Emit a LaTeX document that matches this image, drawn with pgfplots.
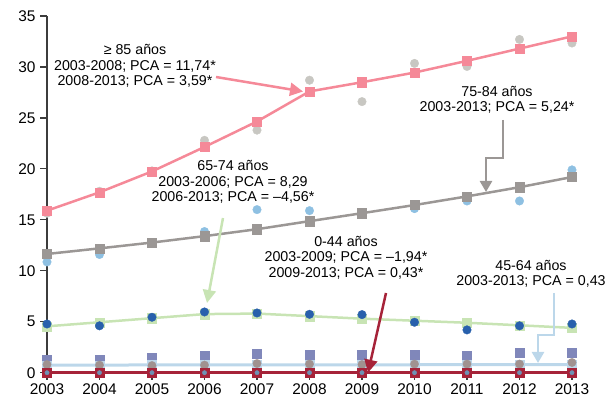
\documentclass[border=0pt]{standalone}
\usepackage{pgfplots}
\pgfplotsset{compat=1.18}
\usepackage{fontspec}
\setmainfont{Liberation Sans}
\usetikzlibrary{arrows.meta}
\definecolor{pinkc}{RGB}{245,137,152}
\definecolor{greyfit}{RGB}{155,151,149}
\definecolor{greycirc}{RGB}{200,199,194}
\definecolor{lbcirc}{RGB}{142,192,226}
\definecolor{dblue}{RGB}{40,96,172}
\definecolor{lgreen}{RGB}{200,228,180}
\definecolor{purplec}{RGB}{128,135,186}
\definecolor{brownc}{RGB}{160,146,144}
\definecolor{lbline}{RGB}{188,215,234}
\definecolor{dred}{RGB}{166,35,57}
\definecolor{smalldot}{RGB}{110,146,180}
\definecolor{axc}{RGB}{60,60,60}
\begin{document}
\begin{tikzpicture}
\begin{axis}[
  scale only axis, width=525bp, height=356.7bp,
  xmin=2003, xmax=2013, ymin=0, ymax=35,
  axis lines*=left,
  axis line style={axc, line width=1.3bp},
  clip=false,
  xtick={2003,...,2013}, ytick={0,5,...,35},
  tick align=outside, major tick length=7bp,
  tick style={axc, line width=1.2bp},
  x tick label style={/pgf/number format/1000 sep={}},
  tick label style={font=\fontsize{15.5}{17}\selectfont},
  /pgf/number format/assume math mode=true,
  yticklabel style={xshift=-1bp},
  every axis plot/.append style={mark options={line width=0.3bp}},
]
% >= 85
\addplot[greycirc, only marks, mark=*, mark size=4.3bp] coordinates {(2003,15.65)(2004,17.8)(2005,19.8)(2006,22.8)(2007,23.8)(2008,28.7)(2009,26.6)(2010,30.35)(2011,30.05)(2012,32.7)(2013,32.35)};
\addplot[pinkc, line width=2.5bp, mark=square*, mark size=4.6bp] coordinates {(2003,15.9)(2004,17.7)(2005,19.75)(2006,22.15)(2007,24.65)(2008,27.6)(2009,28.5)(2010,29.45)(2011,30.6)(2012,31.8)(2013,33.0)};
% 75-84
\addplot[lbcirc, only marks, mark=*, mark size=4.3bp] coordinates {(2003,10.87)(2004,11.6)(2005,12.7)(2006,13.85)(2007,16.0)(2008,15.9)(2009,15.6)(2010,16.1)(2011,16.85)(2012,16.85)(2013,19.9)};
\addplot[greyfit, line width=2.5bp, mark=square*, mark size=4.6bp] coordinates {(2003,11.65)(2004,12.2)(2005,12.77)(2006,13.4)(2007,14.08)(2008,14.87)(2009,15.65)(2010,16.45)(2011,17.3)(2012,18.2)(2013,19.2)};
% 65-74
\addplot[lgreen, line width=2.5bp, mark=square*, mark size=4.6bp] coordinates {(2003,4.55)(2004,4.95)(2005,5.35)(2006,5.75)(2007,5.8)(2008,5.55)(2009,5.3)(2010,5.1)(2011,4.9)(2012,4.65)(2013,4.4)};
\addplot[dblue, only marks, mark=*, mark size=4.3bp] coordinates {(2003,4.78)(2004,4.6)(2005,5.44)(2006,5.96)(2007,5.86)(2008,5.73)(2009,5.7)(2010,4.95)(2011,4.2)(2012,4.6)(2013,4.78)};
% 45-64
\addplot[purplec, only marks, mark=square*, mark size=4.4bp] coordinates {(2003,1.3)(2004,1.3)(2005,1.5)(2006,1.7)(2007,1.83)(2008,1.8)(2009,1.8)(2010,1.8)(2011,1.67)(2012,2.0)(2013,2.0)};
\addplot[lbline, line width=3bp, mark=square*, mark size=4.4bp] coordinates {(2003,0.75)(2004,0.75)(2005,0.76)(2006,0.76)(2007,0.77)(2008,0.77)(2009,0.78)(2010,0.78)(2011,0.79)(2012,0.79)(2013,0.8)};
\addplot[brownc, only marks, mark=*, mark size=4.2bp] coordinates {(2003,0.8)(2004,0.75)(2005,0.7)(2006,0.75)(2007,0.9)(2008,0.85)(2009,0.8)(2010,0.85)(2011,0.85)(2012,0.85)(2013,1.0)};
% 0-44
\addplot[dred, line width=2.5bp, mark=square*, mark size=4.6bp] coordinates {(2003,0)(2004,0)(2005,0)(2006,0)(2007,0)(2008,0)(2009,0)(2010,0)(2011,0)(2012,0)(2013,0)};
\addplot[smalldot, only marks, mark=*, mark size=2.2bp] coordinates {(2003,0)(2004,0)(2005,0)(2006,0)(2007,0)(2008,0)(2009,0)(2010,0)(2011,0)(2012,0)(2013,0)};
\end{axis}
% annotations (bp relative to axis origin)
\tikzset{ann/.style={align=center, font=\fontsize{14.3}{15.6}\selectfont, inner sep=0pt}}
\node[ann] at (88bp,306.7bp) {≥ 85 años\\2003-2008; PCA = 11,74*\\2008-2013; PCA = 3,59*};
\draw[pinkc, line width=2.5bp, -{Triangle[length=13bp,width=13bp]}] (169bp,295.7bp) -- (256bp,281.2bp);
\node[ann] at (450bp,272.7bp) {75-84 años\\2003-2013; PCA = 5,24*};
\draw[greyfit, line width=2.5bp, -{Triangle[length=11bp,width=12bp]}] (456bp,252.7bp) -- (456bp,214.7bp) -- (439bp,214.7bp) -- (439bp,180.7bp);
\node[ann] at (186bp,190.7bp) {65-74 años\\2003-2006; PCA = 8,29\\2006-2013; PCA = –4,56*};
\draw[lgreen, line width=2.5bp, -{Triangle[length=13bp,width=13bp]}] (176bp,154.7bp) -- (160bp,69.7bp);
\node[ann] at (299bp,115.2bp) {0-44 años\\2003-2009; PCA = –1,94*\\2009-2013; PCA = 0,43*};
\draw[dred, line width=2.5bp, -{Triangle[length=13bp,width=13bp]}] (339bp,79.7bp) -- (321bp,0bp);
\node[ann] at (484bp,98.7bp) {45-64 años\\2003-2013; PCA = 0,43};
\draw[lbline, line width=2.5bp, -{Triangle[length=11bp,width=12bp]}] (507bp,79.7bp) -- (507bp,37.7bp) -- (491bp,37.7bp) -- (491bp,9.7bp);
\pgfresetboundingbox
\path[use as bounding box] (-47bp,-28.3bp) rectangle (561bp,372.7bp);
\end{tikzpicture}
\end{document}
